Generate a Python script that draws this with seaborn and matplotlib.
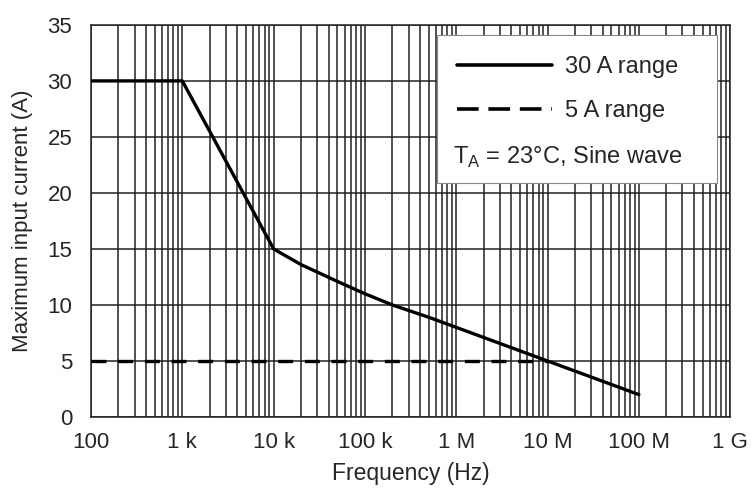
import numpy as np
import pandas as pd
import seaborn as sns
import matplotlib.pyplot as plt
import matplotlib.ticker as ticker
from matplotlib.patches import Rectangle
from matplotlib.lines import Line2D

# data
freq_30a = [100, 1e3, 1e4, 2e4, 5e4, 1e5, 2e5, 5e5, 1e6, 1e7, 1e8]
current_30a = [30, 30, 15, 13.6, 12.1, 11.0, 10.0, 8.9, 8.0, 5.0, 2.0]
freq_5a = [100, 1e7]
current_5a = [5, 5]

tick_pos = [1e2, 1e3, 1e4, 1e5, 1e6, 1e7, 1e8, 1e9]
tick_labels = ["100", "1 k", "10 k", "100 k", "1 M", "10 M", "100 M", "1 G"]

df = pd.concat([
    pd.DataFrame({"freq": freq_30a, "current": current_30a, "range": "30 A range"}),
    pd.DataFrame({"freq": freq_5a, "current": current_5a, "range": "5 A range"}),
])

sns.set_style("white")
plt.rcParams["font.family"] = ["Liberation Sans", "DejaVu Sans"]

fig = plt.figure(figsize=(7.52, 4.88), dpi=100)
ax = fig.add_axes([0.121, 0.1455, 0.850, 0.8035])

sns.lineplot(data=df, x="freq", y="current", hue="range", style="range",
             palette=["black", "black"], dashes={"30 A range": "", "5 A range": (4.5, 3.5)},
             linewidth=2.4, ax=ax, legend=False, zorder=3)

ax.set_xscale("log")
ax.set_xlim(1e2, 1e9)
ax.set_ylim(0, 35)
ax.set_yticks(range(0, 36, 5))
ax.xaxis.set_major_locator(ticker.FixedLocator(tick_pos))
ax.xaxis.set_major_formatter(ticker.FixedFormatter(tick_labels))
ax.xaxis.set_minor_locator(ticker.LogLocator(base=10, subs=np.arange(2, 10)))
ax.xaxis.set_minor_formatter(ticker.NullFormatter())

ax.grid(True, which="major", axis="both", color="#222222", linewidth=1.1)
ax.grid(True, which="minor", axis="x", color="#222222", linewidth=1.1)
ax.set_axisbelow(True)
for s in ax.spines.values():
    s.set_color("#222222")
    s.set_linewidth(1.1)

ax.tick_params(axis="x", which="major", direction="out", length=5, width=1.1,
               color="#222222", labelsize=16, pad=6)
ax.tick_params(axis="x", which="minor", length=0)
ax.tick_params(axis="y", direction="out", length=4.5, width=1.1, color="#222222",
               labelsize=16, pad=9)

ax.set_xlabel("Frequency (Hz)", fontsize=16.5, labelpad=6)
ax.set_ylabel("Maximum input current (A)", fontsize=16, labelpad=10)

# legend box covering the grid
box = Rectangle((0.5415, 0.597), 0.438, 0.378, transform=ax.transAxes,
                facecolor="white", edgecolor="#888888", linewidth=0.8, zorder=4)
ax.add_patch(box)

handles = [Line2D([], [], color="black", linewidth=2.6),
           Line2D([], [], color="black", linewidth=2.6, dashes=(6, 2.7))]
leg = ax.legend(handles, ["30 A range", "5 A range"], loc="upper left",
                bbox_to_anchor=(0.54, 0.975), frameon=False, fontsize=17,
                handlelength=4.0, handletextpad=0.55, labelspacing=0.95)
leg.set_zorder(5)
ax.text(0.566, 0.663, r"T$_{\mathregular{A}}$ = 23°C, Sine wave", transform=ax.transAxes,
        fontsize=17, va="center", ha="left", zorder=6)

fig.savefig("out.png", dpi=100)
